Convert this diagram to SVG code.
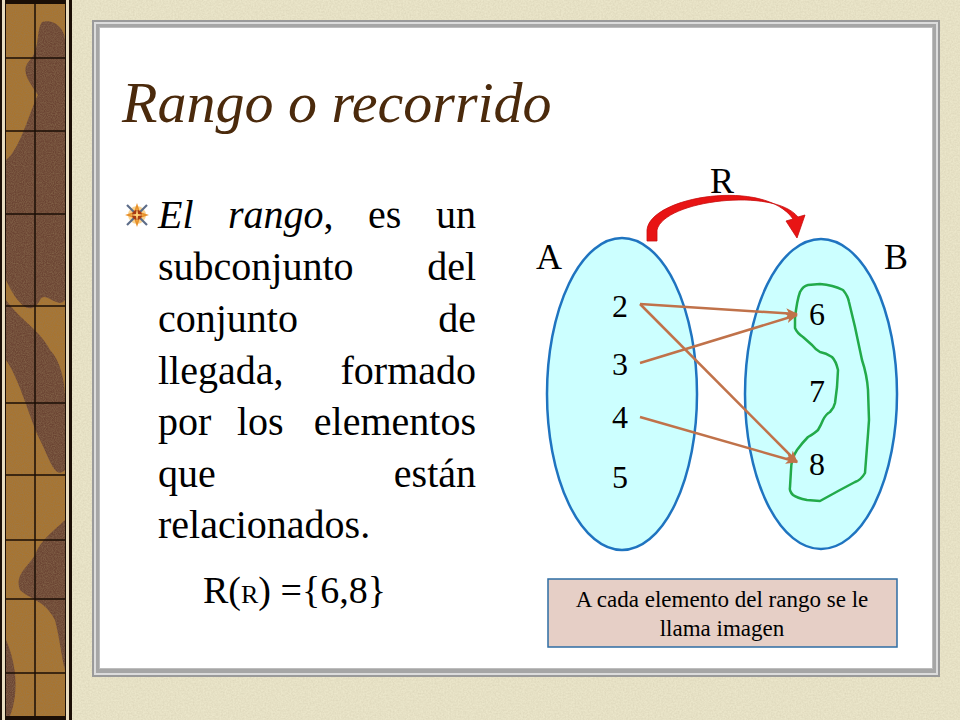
<svg xmlns="http://www.w3.org/2000/svg" width="960" height="720" viewBox="0 0 960 720">
<defs>
<style>
.body{font-family:"Liberation Serif","Times New Roman",serif;font-size:40px;fill:#000}
.lab{font-family:"Liberation Serif","Times New Roman",serif;font-size:36px;fill:#000}
.num{font-family:"Liberation Serif","Times New Roman",serif;font-size:32px;fill:#000;text-anchor:middle}
.rel{stroke:#c0724a;stroke-width:2.5;fill:none}
.set{fill:#ccffff;stroke:#1f74c0;stroke-width:2.5}
.grid{stroke:#1a0e06;stroke-width:1.5}
</style>
<filter id="grain" x="0" y="0" width="100%" height="100%">
<feTurbulence type="fractalNoise" baseFrequency="0.9" numOctaves="2" seed="3" result="n"/>
<feColorMatrix in="n" type="matrix" values="0 0 0 0 0.3  0 0 0 0 0.2  0 0 0 0 0.1  0 0 0 0.9 -0.25"/>
</filter>
<filter id="paper" x="0" y="0" width="100%" height="100%">
<feTurbulence type="fractalNoise" baseFrequency="0.6" numOctaves="3" seed="7" result="n"/>
<feColorMatrix in="n" type="matrix" values="0 0 0 0 0.55  0 0 0 0 0.5  0 0 0 0 0.35  0 0 0 0.5 -0.12"/>
</filter>
<marker id="ah" viewBox="0 0 12 10" refX="11" refY="5" markerWidth="12" markerHeight="10" markerUnits="userSpaceOnUse" orient="auto">
<path d="M0,0 L12,5 L0,10 L3,5 Z" fill="#c0724a"/>
</marker>
</defs>

<!-- background -->
<rect x="0" y="0" width="960" height="720" fill="#ebe6ca"/>
<rect x="72" y="0" width="888" height="720" filter="url(#paper)"/>

<!-- left decorative strip -->
<g id="strip">
<rect x="0" y="0" width="72" height="720" fill="#1a0e06"/>
<rect x="2" y="0" width="3" height="720" fill="#e8dcc0"/>
<rect x="66" y="0" width="3" height="720" fill="#e8dcc0"/>
<rect x="6" y="4" width="59" height="712" fill="#a8742f"/>
<path d="M42,22 C55,18 65,30 65,40 L65,300 C58,310 45,290 40,300 C30,320 15,300 6,280 L6,160 C20,150 30,110 38,95 C28,80 20,70 30,60 C40,50 36,30 42,22 Z" fill="#6b4433"/>
<path d="M6,300 C20,320 40,330 50,350 C60,360 65,380 65,400 L65,470 C55,480 50,460 40,440 C30,420 20,380 6,360 Z" fill="#6b4433"/>
<path d="M65,520 C55,530 40,540 35,555 C25,570 15,575 20,590 C30,600 45,600 55,620 C60,640 62,660 65,670 Z" fill="#6b4433"/>
<path d="M6,640 C15,660 20,690 10,716 L6,716 Z" fill="#6b4433"/>
<rect x="6" y="4" width="59" height="712" filter="url(#grain)"/>
<line class="grid" x1="35" y1="4" x2="35" y2="716"/>
<line class="grid" x1="6" y1="58" x2="65" y2="58"/>
<line class="grid" x1="6" y1="131" x2="65" y2="131"/>
<line class="grid" x1="6" y1="214" x2="65" y2="214"/>
<line class="grid" x1="6" y1="306" x2="65" y2="306"/>
<line class="grid" x1="6" y1="403" x2="65" y2="403"/>
<line class="grid" x1="6" y1="475" x2="65" y2="475"/>
<line class="grid" x1="6" y1="540" x2="65" y2="540"/>
<line class="grid" x1="6" y1="599" x2="65" y2="599"/>
<line class="grid" x1="6" y1="673" x2="65" y2="673"/>
</g>

<!-- white panel frame -->
<g id="panel">
<rect x="92" y="20" width="848" height="657" fill="#9a9a9a"/>
<rect x="94" y="22" width="844" height="653" fill="#dcdcdc"/>
<rect x="96" y="24" width="840" height="649" fill="#a6a6a6"/>
<rect x="99" y="27" width="834" height="642" fill="#bdbdbd"/>
<rect x="100" y="28" width="832" height="640" fill="#ffffff"/>
</g>

<!-- title -->
<g id="title">
<text x="122" y="122" font-family="'Liberation Serif','Times New Roman',serif" font-style="italic" font-size="58" fill="#4b2a0c">Rango o recorrido</text>
</g>

<!-- bullet -->
<g id="bullet" transform="translate(137,215)">
<circle r="9" fill="#f3b64a" opacity="0.6"/>
<line x1="-10" y1="-10" x2="10" y2="10" stroke="#5c6c88" stroke-width="2.2"/>
<line x1="10" y1="-10" x2="-10" y2="10" stroke="#5c6c88" stroke-width="2.2"/>
<path d="M0,-12 L3,-3 L12,0 L3,3 L0,12 L-3,3 L-12,0 L-3,-3 Z" fill="#e8902a"/>
<circle r="5" fill="#a83a12"/>
<path d="M0,-7 L1,-1 L7,0 L1,1 L0,7 L-1,1 L-7,0 L-1,-1 Z" fill="#ffd27a"/>
</g>

<!-- body text -->
<g id="body" class="body">
<text class="body" x="158" y="228" font-style="italic">El</text>
<text class="body" x="228" y="228"><tspan font-style="italic">rango</tspan>,</text>
<text class="body" x="368" y="228">es</text>
<text class="body" x="476" y="228" text-anchor="end">un</text>
<text class="body" x="158" y="280">subconjunto</text>
<text class="body" x="476" y="280" text-anchor="end">del</text>
<text class="body" x="158" y="332">conjunto</text>
<text class="body" x="476" y="332" text-anchor="end">de</text>
<text class="body" x="158" y="384">llegada,</text>
<text class="body" x="476" y="384" text-anchor="end">formado</text>
<text class="body" x="158" y="435">por</text>
<text class="body" x="237" y="435">los</text>
<text class="body" x="476" y="435" text-anchor="end">elementos</text>
<text class="body" x="158" y="487">que</text>
<text class="body" x="476" y="487" text-anchor="end">están</text>
<text class="body" x="158" y="538">relacionados.</text>
</g>

<g id="range-formula">
<text x="203" y="603" font-family="'Liberation Serif','Times New Roman',serif" font-size="38" fill="#000">R(<tspan font-size="26">R</tspan>) ={6,8}</text>
</g>

<!-- set A -->
<g id="setA">
<ellipse class="set" cx="622" cy="394" rx="75" ry="156"/>
<text class="lab" x="536" y="269">A</text>
<text class="num" x="620" y="317">2</text>
<text class="num" x="620" y="375">3</text>
<text class="num" x="620" y="428">4</text>
<text class="num" x="620" y="488">5</text>
</g>

<!-- set B -->
<g id="setB">
<ellipse class="set" cx="821" cy="394" rx="76" ry="155"/>
<text class="lab" x="884" y="269">B</text>
<path d="M795,318 Q797,300 800,292 Q803,286 808,285 L820,284 Q833,285 843,290 Q848,296 849,302 L855,327 L862,360 Q867,375 868,390 L869,420 Q868,435 867,447 L865,473 Q861,480 855,482 L840,490 L820,501 L807,500 Q797,498 793,495 Q789,491 790,487 L791,470 Q791,459 797,450 Q803,442 808,437 Q815,433 818,430 Q821,425 823,420 Q826,414 830,412 Q834,408 835,403 L837,387 L838,370 Q836,361 832,357 Q826,353 820,352 Q815,349 812,345 L803,337 Q797,333 795,328 Z" fill="none" stroke="#22aa4a" stroke-width="2.5" stroke-linejoin="round"/>
<text class="num" x="817" y="325">6</text>
<text class="num" x="817" y="402">7</text>
<text class="num" x="817" y="475">8</text>
</g>

<!-- relation label -->
<g id="relR">
<text class="lab" x="710" y="193">R</text>
</g>

<!-- connectors -->
<g id="connectors">
<path d="M647,241 L647,230 C650,196 765,178 793,219 L786,221 L797,238 L805,215 L798,217 C774,187 664,200 657,230 L657,241 Z" fill="#e81414" stroke="#c80c0c" stroke-width="0.8" stroke-linejoin="round"/>
<line class="rel" x1="640" y1="304" x2="797" y2="314" marker-end="url(#ah)"/>
<line class="rel" x1="640" y1="363" x2="797" y2="315" marker-end="url(#ah)"/>
<line class="rel" x1="640" y1="304" x2="797" y2="462" marker-end="url(#ah)"/>
<line class="rel" x1="640" y1="417" x2="797" y2="462" marker-end="url(#ah)"/>
</g>

<!-- note box -->
<g id="note">
<rect x="548" y="579" width="349" height="68" fill="#e6cfc6" stroke="#2e6da4" stroke-width="1.5"/>
<text x="722" y="607" text-anchor="middle" font-family="'Liberation Serif','Times New Roman',serif" font-size="23" fill="#000">A cada elemento del rango se le</text>
<text x="722" y="636" text-anchor="middle" font-family="'Liberation Serif','Times New Roman',serif" font-size="23" fill="#000">llama imagen</text>
</g>
</svg>
